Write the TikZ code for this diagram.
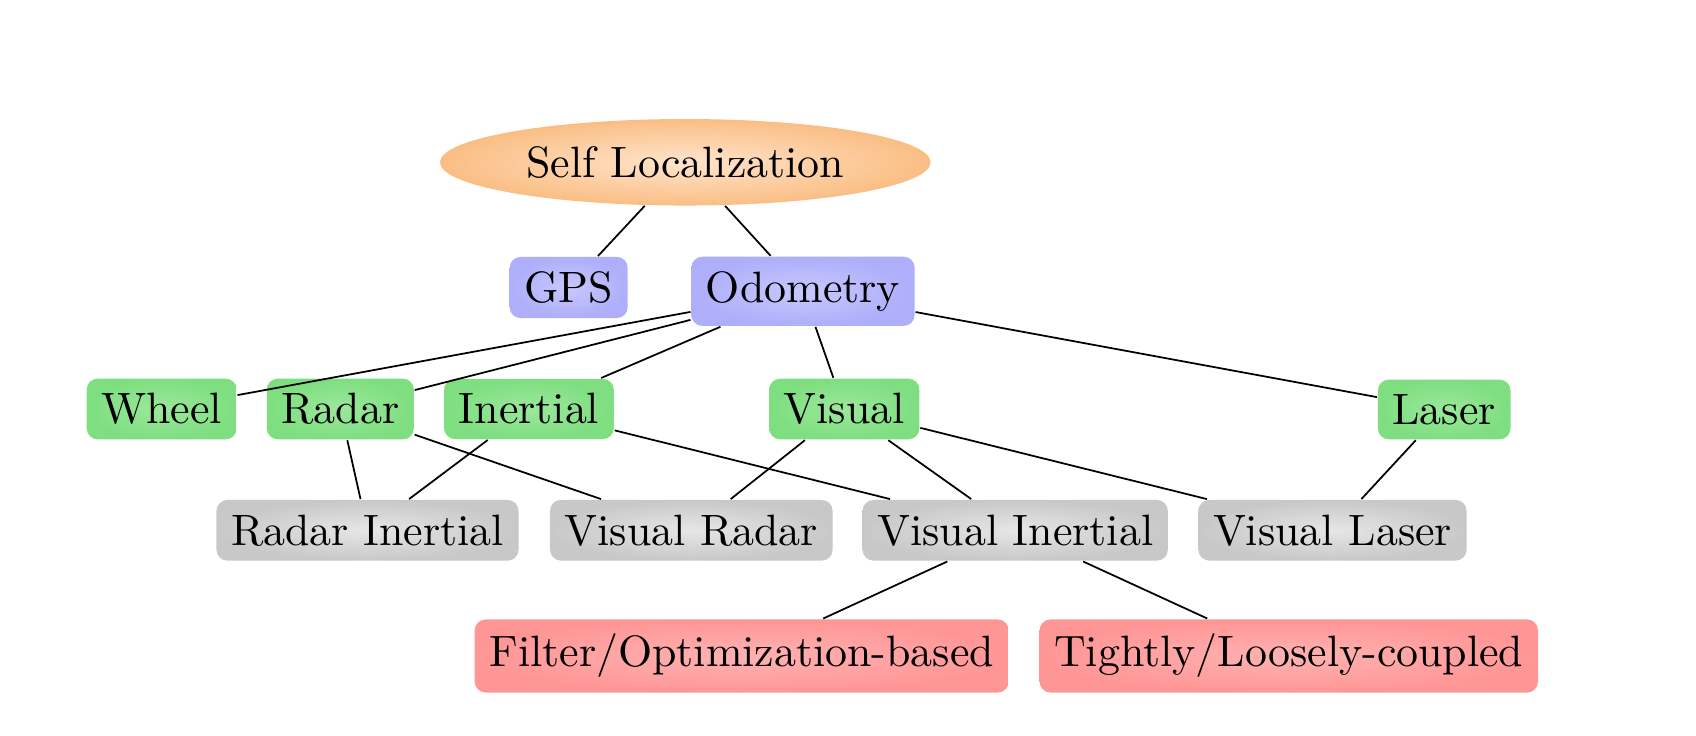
\documentclass[tikz,border=0pt]{standalone}
\usetikzlibrary{shapes.geometric}
\definecolor{orOut}{RGB}{250,190,132}
\definecolor{orIn}{RGB}{255,228,204}
\definecolor{blOut}{RGB}{174,174,250}
\definecolor{blIn}{RGB}{200,200,255}
\definecolor{grOut}{RGB}{126,222,128}
\definecolor{grIn}{RGB}{156,232,156}
\definecolor{gyOut}{RGB}{200,200,200}
\definecolor{gyIn}{RGB}{230,230,230}
\definecolor{rdOut}{RGB}{255,150,150}
\definecolor{rdIn}{RGB}{255,178,178}
\begin{document}
\begin{tikzpicture}[x=0.2278pt,y=-0.2278pt,
  rootnode/.style={ellipse, inner sep=3.333pt, inner color=orIn, outer color=orOut},
  boxnode/.style={rectangle, rounded corners=2.5pt, inner sep=3.333pt},
  bluebox/.style={boxnode, inner color=blIn, outer color=blOut},
  greenbox/.style={boxnode, inner color=grIn, outer color=grOut},
  graybox/.style={boxnode, inner color=gyIn, outer color=gyOut},
  redbox/.style={boxnode, inner color=rdIn, outer color=rdOut},
  link/.style={draw=black, line width=0.4pt}]
\useasboundingbox (0,0) rectangle (1696,736);
\node[rootnode] (self) at (685.3,162.3) {Self Localization};
\node[bluebox] (gps) at (568.7,287.5) {GPS};
\node[bluebox] (odo) at (803,291.3) {Odometry};
\node[greenbox] (wheel) at (161.7,409) {Wheel};
\node[greenbox] (radar) at (340.3,409) {Radar};
\node[greenbox] (inertial) at (529,409) {Inertial};
\node[greenbox] (visual) at (844.3,409) {Visual};
\node[greenbox] (laser) at (1444.2,409.5) {Laser};
\node[graybox] (ri) at (367.5,530.3) {Radar Inertial};
\node[graybox] (vr) at (691.3,530.3) {Visual Radar};
\node[graybox] (vi) at (1015.2,530.3) {Visual Inertial};
\node[graybox] (vl) at (1332.5,530.3) {Visual Laser};
\node[redbox] (filter) at (741.7,656) {Filter/Optimization-based};
\node[redbox] (tight) at (1288.8,656) {Tightly/Loosely-coupled};
\draw[link] (self) -- (gps);
\draw[link] (self) -- (odo);
\draw[link] (odo) -- (wheel);
\draw[link] (odo) -- (radar);
\draw[link] (odo) -- (inertial);
\draw[link] (odo) -- (visual);
\draw[link] (odo) -- (laser);
\draw[link] (radar) -- (ri);
\draw[link] (inertial) -- (ri);
\draw[link] (radar) -- (vr);
\draw[link] (visual) -- (vr);
\draw[link] (inertial) -- (vi);
\draw[link] (visual) -- (vi);
\draw[link] (visual) -- (vl);
\draw[link] (laser) -- (vl);
\draw[link] (vi) -- (filter);
\draw[link] (vi) -- (tight);
\end{tikzpicture}
\end{document}
